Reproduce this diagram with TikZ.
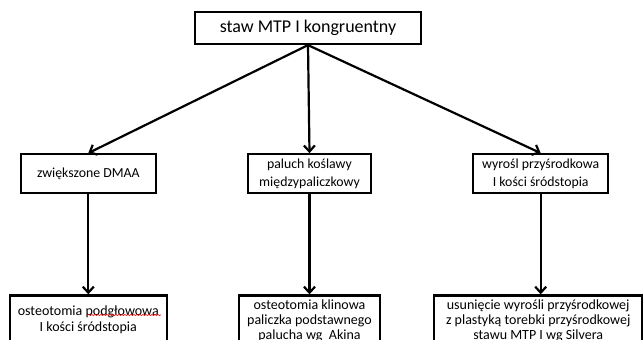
\documentclass[tikz,border=0pt]{standalone}
\usepackage{fontspec}
\setmainfont{Carlito}
\usetikzlibrary{arrows.meta,positioning,decorations.pathmorphing}

\begin{document}
\begin{tikzpicture}[>={Straight Barb[length=6pt,width=11pt]},x=1pt,y=-1pt,line width=2.2pt,node distance=100pt,
    box/.style={draw,rectangle,align=center,inner sep=2pt,font=\fontsize{13.8}{18.5}\selectfont},
    topbox/.style={box,minimum width=226pt,minimum height=32pt,font=\fontsize{18}{20}\selectfont},
    midbox/.style={box,minimum width=135pt,minimum height=39pt},
    endbox/.style={box,minimum height=51pt,font=\fontsize{14}{15.4}\selectfont}]

    \useasboundingbox (0,0) rectangle (643,340);
    \clip (0,0) rectangle (643,340);

    \node[topbox] (mtp) at (308,28) {staw MTP I kongruentny};

    \node[midbox,minimum width=123pt] (hv) [below=108pt of mtp,xshift=1.5pt] {paluch koślawy\\międzypaliczkowy};

    \node[midbox] (dmaa) [left=90pt of hv] {zwiększone DMAA};

    \node[midbox] (bunion) [right=100pt of hv] {wyrośl przyśrodkowa\\I kości śródstopia};

    \node[endbox,minimum width=157pt,minimum height=49pt] (chevron) [below=of dmaa] {osteotomia podgłowowa\\I kości śródstopia};

    \node[endbox,minimum width=141pt] (akin) [below=of hv] {osteotomia klinowa\\paliczka podstawnego\\palucha wg~~Akina};

    \node[endbox,minimum width=208pt] (silver) [below=of bunion,xshift=-2.5pt] {usunięcie wyrośli przyśrodkowej\\z plastyką torebki przyśrodkowej\\stawu MTP I wg Silvera};

    % spell-check underline
    \draw[red,line width=0.6pt,decorate,decoration={snake,amplitude=0.6pt,segment length=3pt}] (88,315) -- (161,315);

    \path[->] (mtp.south) edge (dmaa.north)
                          edge (hv.north)
                          edge (bunion.north)
              (dmaa.south) edge (chevron.north)
              (hv.south) edge (akin.north)
              (bunion.south) edge (bunion.south |- silver.north);

\end{tikzpicture}
\end{document}
